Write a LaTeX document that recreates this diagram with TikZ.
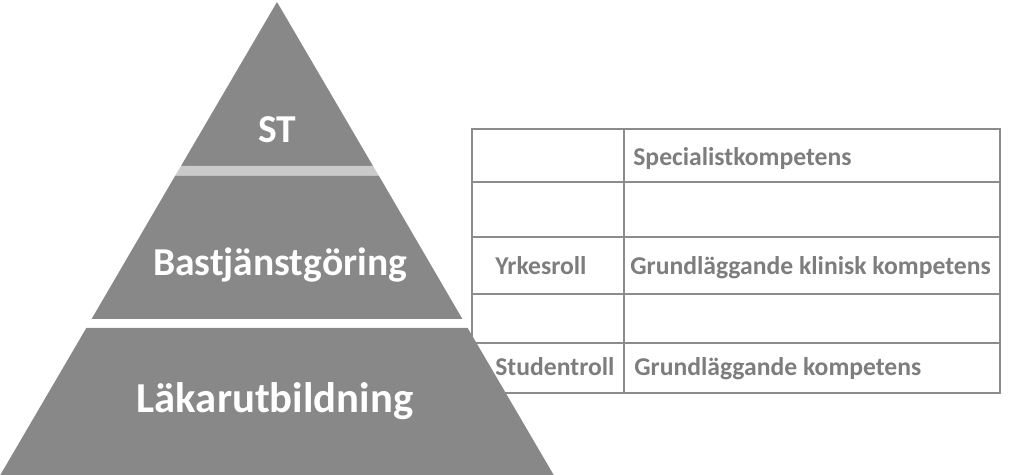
\documentclass[tikz,border=0pt]{standalone}
\usepackage{fontspec}
\setmainfont{Carlito}
\usepackage{tikz}
\usetikzlibrary{positioning}
\usetikzlibrary{calc}

\definecolor{pyrgray}{RGB}{136,136,136}
\definecolor{bandgray}{RGB}{202,202,202}
\definecolor{gridgray}{RGB}{140,140,140}
\definecolor{textgray}{RGB}{125,125,125}

\begin{document}
\begin{tikzpicture}[
    x=0.02cm, y=-0.02cm,
    layer/.style={fill=pyrgray, draw=none},
    layer label/.style={
        text=white, inner sep=0pt,
        font=\bfseries\fontsize{22.5}{27}\selectfont
    },
    grid line/.style={draw=gridgray, line width=1.1pt},
    cell label/.style={
        text=textgray, inner sep=0pt, anchor=base west,
        font=\bfseries\fontsize{14.6}{17}\selectfont
    }
  ]
  \useasboundingbox (0,0) rectangle (1023,475);

  % table grid
  \coordinate (tab_nw) at (472,129);
  \coordinate (tab_se) at (1000,393);
  \draw[grid line] (tab_nw) rectangle (tab_se);
  \draw[grid line] (624,129) -- (624,393);
  \foreach \yrow in {182,237,294,343}
    \draw[grid line] (472,\yrow) -- (1000,\yrow);

  % pyramid
  \coordinate (apex) at (277,2);

  \coordinate (st_sw) at (181,166);
  \coordinate (st_se) at (373,166);

  \coordinate (band_sw) at (175,176);
  \coordinate (band_se) at (379,176);

  \coordinate (mid_sw) at (91.6,319);
  \coordinate (mid_se) at (462.4,319);

  \coordinate (bot_nw) at (86.3,328);
  \coordinate (bot_ne) at (467.7,328);
  \coordinate (bot_sw) at (0.3,475);
  \coordinate (bot_se) at (553.7,475);

  \fill[layer] (apex) -- (st_se) -- (st_sw) -- cycle;
  \fill[bandgray] (st_sw) -- (st_se) -- (band_se) -- (band_sw) -- cycle;
  \fill[layer] (band_sw) -- (band_se) -- (mid_se) -- (mid_sw) -- cycle;
  \fill[layer] (bot_nw) -- (bot_ne) -- (bot_se) -- (bot_sw) -- cycle;

  \node[layer label] (st) at (277,130) {ST};
  \node[layer label] (bas) at (280,265) {Bastjänstgöring};
  \node[layer label, font=\bfseries\fontsize{24.3}{29}\selectfont] (lak) at (275,401) {Läkarutbildning};

  % table texts
  \node[cell label] (spec) at (633,166) {Specialistkompetens};
  \node[cell label] (yrke) at (495,275) {Yrkesroll};
  \node[cell label] (klin) at (630,275) {Grundläggande klinisk kompetens};
  \node[cell label] (stud) at (495,376) {Studentroll};
  \node[cell label] (grund) at (634,376) {Grundläggande kompetens};

\end{tikzpicture}
\end{document}
